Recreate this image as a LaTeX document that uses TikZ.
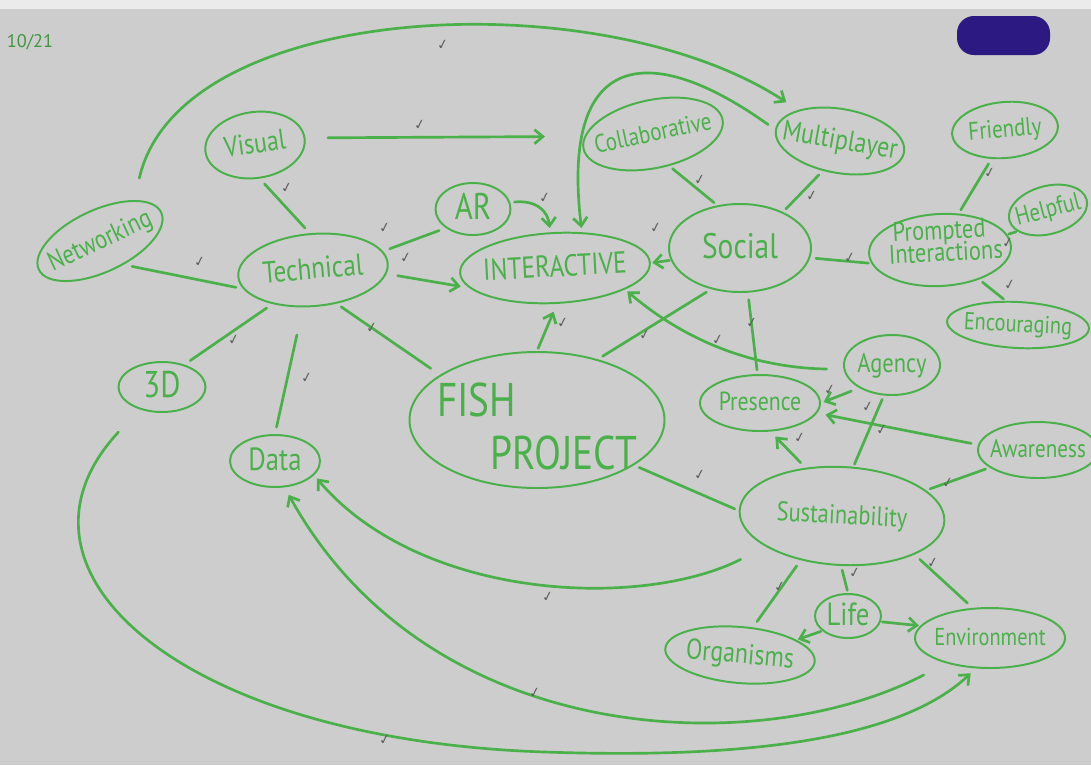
\documentclass[tikz,border=0pt]{standalone}
\usepackage{fontspec}
\setmainfont{PT Sans}
\newfontfamily\tickfont{DejaVu Sans}
\usepackage{graphicx}
\usepackage{tikz}
\usetikzlibrary{shapes.geometric,arrows.meta}

\definecolor{marker}{RGB}{74,176,74}
\definecolor{board}{RGB}{205,205,205}
\definecolor{redact}{RGB}{45,25,130}
\definecolor{pencil}{RGB}{95,95,95}

\newcommand{\mkfs}[1]{\fontsize{#1}{#1}\selectfont}
\newcommand{\inbub}[2][-.35em]{\raisebox{#1}[0pt][0pt]{\makebox[0pt]{\scalebox{1}[1.2]{#2}}}}

\tikzset{
	bubble/.style 2 args={ellipse, draw=marker, line width=1.4pt, inner sep=0pt, text=marker,
		minimum width=#1*0.025cm, minimum height=#2*0.025cm},
	link/.style={draw=marker, line width=1.9pt, line cap=round},
	arr/.style={link, -{Straight Barb[length=6pt,width=10pt]}},
	tick/.style={text=pencil, font=\tickfont\fontsize{10}{10}\selectfont, rotate=10}
}

\begin{document}
\begin{tikzpicture}[x=0.025cm, y=-0.025cm]
				%\draw[help lines, step=50] (0,0) grid (1091,765);
				\useasboundingbox (0,0) rectangle (1091,765);
				\fill[board] (0,0) rectangle (1091,765);
				\fill[board!40!white] (0,0) rectangle (1091,9);
				\fill[redact, rounded corners=12pt] (957,16) rectangle (1050,55);
				\node[text=marker!85!black, font=\mkfs{13}] (date) at (30,42) {10/21};
				
				% left side
				\node[bubble={135}{62}, rotate=25, font=\mkfs{16}] (net) at (100,241) {\inbub{Networking}};
				\node[bubble={100}{66}, rotate=8, font=\mkfs{17}] (vis) at (255,145) {\inbub{Visual}};
				\node[bubble={150}{72}, rotate=5, font=\mkfs{18}] (tech) at (313,270) {\inbub{Technical}};
				\node[bubble={75}{52}, font=\mkfs{22}] (ar) at (473,209) {\inbub{AR}};
				\node[bubble={87}{50}, font=\mkfs{22}] (three) at (162,387) {\inbub{3D}};
				\node[bubble={90}{52}, font=\mkfs{19}] (data) at (275,461) {\inbub{Data}};
				
				% middle
				\node[bubble={190}{70}, rotate=3, font=\mkfs{18}] (inter) at (555,268) {\inbub{INTERACTIVE}};
				\node[bubble={255}{136}, font=\mkfs{28}] (fish) at (537,420)
					{\inbub[-.6em]{\begin{tabular}{@{}l@{}}FISH\\[3pt]\hspace{38pt}PROJECT\end{tabular}}};
				\node[bubble={142}{88}, font=\mkfs{21}] (soc) at (740,248) {\inbub{Social}};
				\node[bubble={142}{68}, rotate=12, font=\mkfs{15}] (collab) at (653,134) {\inbub{Collaborative}};
				\node[bubble={130}{64}, rotate=-10, font=\mkfs{17}] (multi) at (840,141) {\inbub{Multiplayer}};
				
				% right side
				\node[bubble={106}{56}, rotate=5, font=\mkfs{15}] (friend) at (1005,130) {\inbub{Friendly}};
				\node[bubble={80}{48}, rotate=15, font=\mkfs{15}] (help) at (1048,210) {\inbub{Helpful}};
				\node[bubble={142}{72}, rotate=3, font=\mkfs{16}] (prompt) at (940,250)
					{\inbub[-.1em]{\begin{tabular}{@{}c@{}}Prompted\\[-3pt]\hspace{8pt}Interactions\end{tabular}}};
				\node[bubble={142}{46}, rotate=-3, font=\mkfs{14.5}] (enc) at (1018,325) {\inbub{Encouraging}};
				\node[bubble={96}{60}, font=\mkfs{16}] (agency) at (892,365) {\inbub{Agency}};
				\node[bubble={120}{56}, font=\mkfs{15.5}] (pres) at (760,403) {\inbub{Presence}};
				\node[bubble={120}{56}, font=\mkfs{15}] (aware) at (1038,450) {\inbub{Awareness}};
				\node[bubble={205}{98}, rotate=-3, font=\mkfs{16}] (sust) at (842,516) {\inbub{Sustainability}};
				\node[bubble={66}{44}, font=\mkfs{19}] (life) at (848,616) {\inbub{Life}};
				\node[bubble={150}{56}, rotate=-5, font=\mkfs{17}] (org) at (740,655) {\inbub{Organisms}};
				\node[bubble={150}{60}, font=\mkfs{14.5}] (env) at (990,638) {\inbub{Environment}};
				
				% plain lines
				\foreach \a/\b/\s/\e in {net.-70/tech.190/6pt/5pt, vis.south/tech.north/5pt/5pt,
					tech.10/ar.215/5pt/5pt, tech.215/three.45/5pt/5pt, tech.250/data.north/20pt/5pt,
					tech.-60/fish.155/4pt/8pt, collab.-75/soc.118/3pt/3pt, multi.250/soc.40/4pt/3pt,
					soc.-8/prompt.188/4pt/2pt, friend.240/prompt.60/4pt/3pt, prompt.10/help.200/1pt/1pt,
					prompt.-40/enc.120/3pt/2pt, soc.-80/pres.95/5pt/3pt, soc.235/fish.45/4pt/4pt,
					agency.255/sust.80/3pt/2pt, fish.-25/sust.180/4pt/3pt, sust.20/aware.200/3pt/3pt,
					sust.-88/life.north/3pt/2pt, sust.230/org.70/5pt/5pt, sust.-25/env.120/5pt/5pt}
					\draw[link, shorten <=\s, shorten >=\e] (\a) -- (\b);
				
				% arrows
				\draw[arr, shorten <=16pt, shorten >=28pt] (vis.east) -- (collab.170);
				\draw[arr, shorten <=16pt, shorten >=10pt] (net.north east) .. controls (180,0) and (600,-20) .. (multi.north west);
				\draw[arr, shorten <=6pt, shorten >=3pt] (multi.west) .. controls (650,40) and (560,50) .. (inter.50);
				\draw[arr, shorten <=3pt, shorten >=3pt] (ar.10) .. controls (535,200) and (548,210) .. (inter.95);
				\draw[arr, shorten <=8pt, shorten >=6pt] (tech.-8) -- (inter.190);
				\draw[arr, shorten <=2pt, shorten >=6pt] (fish.north) -- (inter.south);
				\draw[arr, shorten <=1pt, shorten >=1pt] (soc.190) -- (inter.east);
				\draw[arr, shorten <=12pt, shorten >=2pt] (agency.185) .. controls (760,368) and (690,345) .. (inter.-20);
				\draw[arr, shorten <=6pt, shorten >=2pt] (agency.215) -- (pres.0);
				\draw[arr, shorten <=5pt, shorten >=6pt] (aware.175) -- (pres.-10);
				\draw[arr, shorten <=5pt, shorten >=5pt] (sust.130) -- (pres.-70);
				\draw[arr, shorten <=1pt, shorten >=1pt] (life.210) -- (org.20);
				\draw[arr, shorten <=1pt, shorten >=1pt] (life.-10) -- (env.170);
				\draw[arr, shorten <=20pt, shorten >=3pt] (sust.205) .. controls (640,610) and (420,600) .. (data.-20);
				\draw[arr, shorten <=18pt, shorten >=6pt] (env.210) .. controls (760,760) and (430,750) .. (data.-70);
				\draw[arr, shorten <=22pt, shorten >=5pt] (three.225) .. controls (-10,570) and (180,740) .. (545,752)
					.. controls (745,759) and (900,740) .. (env.245);
				
				% pencil ticks
				\foreach \x/\y [count=\i] in {443/45, 420/125, 287/188, 200/262, 234/340, 307/378, 372/328,
					385/228, 406/258, 545/198, 656/228, 563/323, 700/180, 812/196, 850/258, 1008/243,
					1010/285, 990/173, 752/323, 645/335, 718/340, 830/390, 868/407, 882/430, 800/438,
					700/475, 948/483, 933/563, 855/573, 780/587, 548/597, 535/693, 385/740}
					\node[tick] (tick\i) at (\x,\y) {✓};
			\end{tikzpicture}
\end{document}
